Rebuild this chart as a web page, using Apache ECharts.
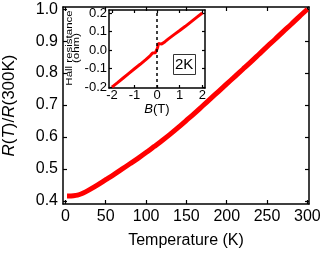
<!DOCTYPE html>
<html>
<head>
<meta charset="utf-8">
<script src="https://cdn.jsdelivr.net/npm/echarts@6/dist/echarts.min.js"></script>
<style>html,body{margin:0;padding:0;background:#fff}#c{width:322px;height:256px}</style>
</head>
<body>
<div id="c"></div>
<script>
// Main curve: temperature (K) and R(T)/R(300K)
var temps = [2, 5, 10, 15, 20, 25, 30, 40, 50, 60, 70, 80, 90, 100, 110, 120, 130, 140, 150, 160, 170, 180, 190, 200, 210, 220, 230, 240, 250, 260, 270, 280, 290, 300];
var ratio = [0.415, 0.415, 0.416, 0.418, 0.422, 0.428, 0.435, 0.450, 0.466, 0.482, 0.499, 0.516, 0.533, 0.551, 0.570, 0.589, 0.609, 0.630, 0.652, 0.674, 0.697, 0.720, 0.743, 0.766, 0.789, 0.812, 0.835, 0.859, 0.883, 0.906, 0.930, 0.953, 0.977, 1.000];
// Inset: Hall resistance vs field at 2K
var fieldB = [-2, -1.75, -1.5, -1.25, -1, -0.75, -0.5, -0.3, -0.2, -0.15, -0.08, -0.02, 0.02, 0.06, 0.12, 0.2, 0.35, 0.5, 0.75, 1, 1.25, 1.5, 1.75, 2];
var hallR = [-0.2, -0.176, -0.151, -0.126, -0.101, -0.077, -0.052, -0.030, -0.016, -0.008, -0.015, 0.0, 0.012, 0.036, 0.028, 0.032, 0.045, 0.060, 0.083, 0.105, 0.128, 0.152, 0.176, 0.2];
// Tick values
var mainXTicks = [0, 50, 100, 150, 200, 250, 300];
var mainYTicks = [0.4, 0.5, 0.6, 0.7, 0.8, 0.9, 1.0];
var insetXTicks = [-2, -1, 0, 1, 2];
var insetYTicks = [-0.2, -0.1, 0.0, 0.1, 0.2];

function zip(a, b) { return a.map(function (v, i) { return [v, b[i]]; }); }

var FONT = "'Liberation Sans', Arial, Helvetica, sans-serif";

function axis(opts) {
  var a = {
    type: 'value', gridIndex: opts.grid, position: opts.pos, min: opts.min, max: opts.max,
    splitLine: { show: false },
    axisLine: { show: true, onZero: false, lineStyle: { color: '#000', width: 1.5 } },
    axisTick: { show: true, inside: true, length: opts.tickLen, customValues: opts.ticks, lineStyle: { color: '#000', width: 1.2 } },
    axisLabel: { show: !!opts.labels, customValues: opts.ticks, color: '#000', fontFamily: FONT, fontSize: opts.fontSize, margin: opts.margin,
      formatter: opts.fmt }
  };
  if (opts.name) {
    a.name = opts.name; a.nameLocation = 'middle'; a.nameGap = opts.nameGap;
    a.nameTextStyle = opts.nameStyle;
  }
  return a;
}

var chart = echarts.init(document.getElementById('c'), null, { renderer: 'canvas' });
chart.setOption({
  animation: false,
  backgroundColor: '#fff',
  textStyle: { fontFamily: FONT },
  title: {
    text: '2K', left: 173, top: 54,
    borderColor: '#333', borderWidth: 1, padding: [3, 2, 2, 2],
    textStyle: { fontSize: 15, fontWeight: 'normal', color: '#000', fontFamily: FONT, lineHeight: 16 }
  },
  grid: [
    { left: 63, right: 13, top: 7, bottom: 52, outerBoundsMode: 'none', containLabel: false },
    { left: 109, top: 10, width: 96, height: 78, outerBoundsMode: 'none', containLabel: false, backgroundColor: '#fff', show: true, borderWidth: 0 }
  ],
  xAxis: [
    axis({ grid: 0, pos: 'bottom', min: -3, max: 302, tickLen: 4, ticks: mainXTicks, labels: true, fontSize: 16, margin: 5,
      fmt: function (v) { return String(v); },
      name: 'Temperature (K)', nameGap: 29, nameStyle: { color: '#000', fontSize: 16, fontFamily: FONT } }),
    axis({ grid: 0, pos: 'top', min: -3, max: 302, tickLen: 4, ticks: mainXTicks, labels: false }),
    axis({ grid: 1, pos: 'bottom', min: -2.13, max: 2.12, tickLen: 3, ticks: insetXTicks, labels: true, fontSize: 13, margin: 1,
      fmt: function (v) { return String(v); },
      name: '{i|B}{n|(T)}', nameGap: 14,
      nameStyle: { color: '#000', rich: { i: { fontStyle: 'italic', fontSize: 13, fontFamily: FONT, color: '#000' }, n: { fontSize: 13, fontFamily: FONT, color: '#000' } } } }),
    axis({ grid: 1, pos: 'top', min: -2.13, max: 2.12, tickLen: 3, ticks: insetXTicks, labels: false })
  ],
  yAxis: [
    axis({ grid: 0, pos: 'left', min: 0.39, max: 1.007, tickLen: 4, ticks: mainYTicks, labels: true, fontSize: 16, margin: 5,
      fmt: function (v) { return v.toFixed(1); },
      name: '{i|R}{n|(}{i|T}{n|)/}{i|R}{n|(300K)}', nameGap: 45,
      nameStyle: { color: '#000', rich: { i: { fontStyle: 'italic', fontSize: 17, fontFamily: FONT, color: '#000' }, n: { fontSize: 17, fontFamily: FONT, color: '#000' } } } }),
    axis({ grid: 0, pos: 'right', min: 0.39, max: 1.007, tickLen: 4, ticks: mainYTicks, labels: false }),
    axis({ grid: 1, pos: 'left', min: -0.205, max: 0.216, tickLen: 3, ticks: insetYTicks, labels: true, fontSize: 13, margin: 2,
      fmt: function (v) { return v.toFixed(1); } }),
    axis({ grid: 1, pos: 'right', min: -0.205, max: 0.216, tickLen: 3, ticks: insetYTicks, labels: false })
  ],
  graphic: [
    { type: 'text', x: 73.5, y: 48, rotation: Math.PI / 2, scaleX: 1.35, z: 100,
      style: { text: 'Hall resistance\n(ohm)', fontSize: 8.5, lineHeight: 7, fontFamily: FONT, fill: '#000', align: 'center', verticalAlign: 'middle' } }
  ],
  series: [
    { type: 'line', xAxisIndex: 0, yAxisIndex: 0, data: zip(temps, ratio), showSymbol: false, smooth: 0.3,
      lineStyle: { color: '#ff0000', width: 5 } },
    { type: 'line', xAxisIndex: 2, yAxisIndex: 2, data: zip(fieldB, hallR), showSymbol: false,
      lineStyle: { color: '#ff0000', width: 3 },
      markLine: { symbol: 'none', silent: true, label: { show: false },
        lineStyle: { color: '#000', type: [3, 3], width: 1.5 }, data: [{ xAxis: 0 }] } }
  ]
});
</script>
</body>
</html>
